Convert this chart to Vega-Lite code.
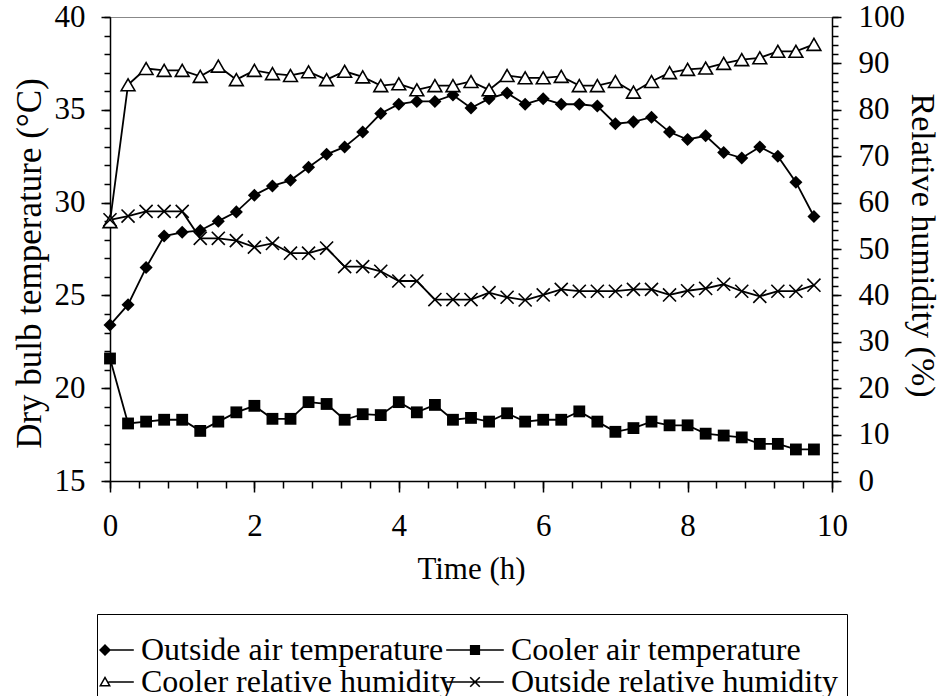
{
"$schema": "https://vega.github.io/schema/vega-lite/v6.json",
"width": 722, "height": 464, "autosize": "none",
"padding": {"left": 110, "top": 17, "right": 109, "bottom": 215},
"config": {
  "font": "Liberation Serif",
  "view": {"stroke": "#888888", "strokeWidth": 1},
  "axis": {"grid": false, "labelColor": "black", "titleColor": "black", "tickColor": "black", "domainColor": "black", "domainWidth": 1.5, "tickWidth": 1.5, "labelFont": "Liberation Serif", "titleFont": "Liberation Serif", "labelFontSize": 31, "titleFontWeight": "normal", "labelFlush": false}
},
"data": {"values": [
{"t":0,"s":"Outside air temperature","v":23.4},{"t":0.25,"s":"Outside air temperature","v":24.5},{"t":0.5,"s":"Outside air temperature","v":26.5},{"t":0.75,"s":"Outside air temperature","v":28.2},{"t":1,"s":"Outside air temperature","v":28.4},{"t":1.25,"s":"Outside air temperature","v":28.5},{"t":1.5,"s":"Outside air temperature","v":29.0},{"t":1.75,"s":"Outside air temperature","v":29.5},{"t":2,"s":"Outside air temperature","v":30.4},{"t":2.25,"s":"Outside air temperature","v":30.9},{"t":2.5,"s":"Outside air temperature","v":31.2},{"t":2.75,"s":"Outside air temperature","v":31.9},{"t":3,"s":"Outside air temperature","v":32.6},{"t":3.25,"s":"Outside air temperature","v":33.0},{"t":3.5,"s":"Outside air temperature","v":33.8},{"t":3.75,"s":"Outside air temperature","v":34.8},{"t":4,"s":"Outside air temperature","v":35.3},{"t":4.25,"s":"Outside air temperature","v":35.45},{"t":4.5,"s":"Outside air temperature","v":35.45},{"t":4.75,"s":"Outside air temperature","v":35.8},{"t":5,"s":"Outside air temperature","v":35.1},{"t":5.25,"s":"Outside air temperature","v":35.6},{"t":5.5,"s":"Outside air temperature","v":35.9},{"t":5.75,"s":"Outside air temperature","v":35.3},{"t":6,"s":"Outside air temperature","v":35.6},{"t":6.25,"s":"Outside air temperature","v":35.3},{"t":6.5,"s":"Outside air temperature","v":35.3},{"t":6.75,"s":"Outside air temperature","v":35.2},{"t":7,"s":"Outside air temperature","v":34.25},{"t":7.25,"s":"Outside air temperature","v":34.35},{"t":7.5,"s":"Outside air temperature","v":34.6},{"t":7.75,"s":"Outside air temperature","v":33.8},{"t":8,"s":"Outside air temperature","v":33.4},{"t":8.25,"s":"Outside air temperature","v":33.6},{"t":8.5,"s":"Outside air temperature","v":32.7},{"t":8.75,"s":"Outside air temperature","v":32.4},{"t":9,"s":"Outside air temperature","v":33.0},{"t":9.25,"s":"Outside air temperature","v":32.5},{"t":9.5,"s":"Outside air temperature","v":31.1},{"t":9.75,"s":"Outside air temperature","v":29.25},
{"t":0,"s":"Cooler air temperature","v":21.6},{"t":0.25,"s":"Cooler air temperature","v":18.1},{"t":0.5,"s":"Cooler air temperature","v":18.2},{"t":0.75,"s":"Cooler air temperature","v":18.3},{"t":1,"s":"Cooler air temperature","v":18.3},{"t":1.25,"s":"Cooler air temperature","v":17.7},{"t":1.5,"s":"Cooler air temperature","v":18.2},{"t":1.75,"s":"Cooler air temperature","v":18.7},{"t":2,"s":"Cooler air temperature","v":19.05},{"t":2.25,"s":"Cooler air temperature","v":18.35},{"t":2.5,"s":"Cooler air temperature","v":18.35},{"t":2.75,"s":"Cooler air temperature","v":19.25},{"t":3,"s":"Cooler air temperature","v":19.15},{"t":3.25,"s":"Cooler air temperature","v":18.3},{"t":3.5,"s":"Cooler air temperature","v":18.6},{"t":3.75,"s":"Cooler air temperature","v":18.55},{"t":4,"s":"Cooler air temperature","v":19.25},{"t":4.25,"s":"Cooler air temperature","v":18.7},{"t":4.5,"s":"Cooler air temperature","v":19.1},{"t":4.75,"s":"Cooler air temperature","v":18.3},{"t":5,"s":"Cooler air temperature","v":18.4},{"t":5.25,"s":"Cooler air temperature","v":18.2},{"t":5.5,"s":"Cooler air temperature","v":18.65},{"t":5.75,"s":"Cooler air temperature","v":18.2},{"t":6,"s":"Cooler air temperature","v":18.3},{"t":6.25,"s":"Cooler air temperature","v":18.3},{"t":6.5,"s":"Cooler air temperature","v":18.75},{"t":6.75,"s":"Cooler air temperature","v":18.2},{"t":7,"s":"Cooler air temperature","v":17.65},{"t":7.25,"s":"Cooler air temperature","v":17.85},{"t":7.5,"s":"Cooler air temperature","v":18.2},{"t":7.75,"s":"Cooler air temperature","v":18.0},{"t":8,"s":"Cooler air temperature","v":18.0},{"t":8.25,"s":"Cooler air temperature","v":17.55},{"t":8.5,"s":"Cooler air temperature","v":17.45},{"t":8.75,"s":"Cooler air temperature","v":17.35},{"t":9,"s":"Cooler air temperature","v":17.0},{"t":9.25,"s":"Cooler air temperature","v":17.0},{"t":9.5,"s":"Cooler air temperature","v":16.7},{"t":9.75,"s":"Cooler air temperature","v":16.7},
{"t":0,"s":"Cooler relative humidity","v":55.9},{"t":0.25,"s":"Cooler relative humidity","v":85.4},{"t":0.5,"s":"Cooler relative humidity","v":88.9},{"t":0.75,"s":"Cooler relative humidity","v":88.5},{"t":1,"s":"Cooler relative humidity","v":88.5},{"t":1.25,"s":"Cooler relative humidity","v":87.2},{"t":1.5,"s":"Cooler relative humidity","v":89.4},{"t":1.75,"s":"Cooler relative humidity","v":86.5},{"t":2,"s":"Cooler relative humidity","v":88.5},{"t":2.25,"s":"Cooler relative humidity","v":87.8},{"t":2.5,"s":"Cooler relative humidity","v":87.4},{"t":2.75,"s":"Cooler relative humidity","v":88.2},{"t":3,"s":"Cooler relative humidity","v":86.5},{"t":3.25,"s":"Cooler relative humidity","v":88.3},{"t":3.5,"s":"Cooler relative humidity","v":87.1},{"t":3.75,"s":"Cooler relative humidity","v":85.2},{"t":4,"s":"Cooler relative humidity","v":85.6},{"t":4.25,"s":"Cooler relative humidity","v":84.3},{"t":4.5,"s":"Cooler relative humidity","v":85.2},{"t":4.75,"s":"Cooler relative humidity","v":85.2},{"t":5,"s":"Cooler relative humidity","v":86.1},{"t":5.25,"s":"Cooler relative humidity","v":84.3},{"t":5.5,"s":"Cooler relative humidity","v":87.4},{"t":5.75,"s":"Cooler relative humidity","v":86.9},{"t":6,"s":"Cooler relative humidity","v":86.9},{"t":6.25,"s":"Cooler relative humidity","v":87.2},{"t":6.5,"s":"Cooler relative humidity","v":85.2},{"t":6.75,"s":"Cooler relative humidity","v":85.2},{"t":7,"s":"Cooler relative humidity","v":86.1},{"t":7.25,"s":"Cooler relative humidity","v":83.8},{"t":7.5,"s":"Cooler relative humidity","v":86.1},{"t":7.75,"s":"Cooler relative humidity","v":88.0},{"t":8,"s":"Cooler relative humidity","v":88.7},{"t":8.25,"s":"Cooler relative humidity","v":89.0},{"t":8.5,"s":"Cooler relative humidity","v":90.0},{"t":8.75,"s":"Cooler relative humidity","v":90.8},{"t":9,"s":"Cooler relative humidity","v":91.2},{"t":9.25,"s":"Cooler relative humidity","v":92.6},{"t":9.5,"s":"Cooler relative humidity","v":92.6},{"t":9.75,"s":"Cooler relative humidity","v":94.1},
{"t":0,"s":"Outside relative humidity","v":56.3},{"t":0.25,"s":"Outside relative humidity","v":57.1},{"t":0.5,"s":"Outside relative humidity","v":58.1},{"t":0.75,"s":"Outside relative humidity","v":58.1},{"t":1,"s":"Outside relative humidity","v":58.1},{"t":1.25,"s":"Outside relative humidity","v":52.3},{"t":1.5,"s":"Outside relative humidity","v":52.3},{"t":1.75,"s":"Outside relative humidity","v":51.8},{"t":2,"s":"Outside relative humidity","v":50.4},{"t":2.25,"s":"Outside relative humidity","v":51.2},{"t":2.5,"s":"Outside relative humidity","v":49.1},{"t":2.75,"s":"Outside relative humidity","v":49.1},{"t":3,"s":"Outside relative humidity","v":50.2},{"t":3.25,"s":"Outside relative humidity","v":46.2},{"t":3.5,"s":"Outside relative humidity","v":46.2},{"t":3.75,"s":"Outside relative humidity","v":45.2},{"t":4,"s":"Outside relative humidity","v":43.1},{"t":4.25,"s":"Outside relative humidity","v":43.1},{"t":4.5,"s":"Outside relative humidity","v":39.1},{"t":4.75,"s":"Outside relative humidity","v":39.1},{"t":5,"s":"Outside relative humidity","v":39.1},{"t":5.25,"s":"Outside relative humidity","v":40.6},{"t":5.5,"s":"Outside relative humidity","v":39.6},{"t":5.75,"s":"Outside relative humidity","v":39.0},{"t":6,"s":"Outside relative humidity","v":40.1},{"t":6.25,"s":"Outside relative humidity","v":41.3},{"t":6.5,"s":"Outside relative humidity","v":40.9},{"t":6.75,"s":"Outside relative humidity","v":40.9},{"t":7,"s":"Outside relative humidity","v":40.9},{"t":7.25,"s":"Outside relative humidity","v":41.3},{"t":7.5,"s":"Outside relative humidity","v":41.3},{"t":7.75,"s":"Outside relative humidity","v":40.1},{"t":8,"s":"Outside relative humidity","v":41.0},{"t":8.25,"s":"Outside relative humidity","v":41.5},{"t":8.5,"s":"Outside relative humidity","v":42.4},{"t":8.75,"s":"Outside relative humidity","v":40.9},{"t":9,"s":"Outside relative humidity","v":39.8},{"t":9.25,"s":"Outside relative humidity","v":40.9},{"t":9.5,"s":"Outside relative humidity","v":40.9},{"t":9.75,"s":"Outside relative humidity","v":42.2}
]},
"layer": [
 {
  "transform": [{"filter": {"field": "s", "oneOf": ["Outside air temperature", "Cooler air temperature"]}}],
  "encoding": {
    "x": {"field": "t", "type": "quantitative", "scale": {"domain": [0, 10], "nice": false},
          "axis": {"orient": "bottom", "values": [0,2,4,6,8,10], "tickSize": 11, "labelPadding": 19, "title": "Time (h)", "titleFontSize": 31, "titleY": 88, "titleBaseline": "middle"}},
    "y": {"field": "v", "type": "quantitative", "scale": {"domain": [15, 40], "nice": false, "zero": false},
          "axis": {"orient": "left", "values": [15,20,25,30,35,40], "tickSize": 9, "labelPadding": 16, "title": "Dry bulb temperature (°C)", "titleFontSize": 35, "titleAngle": 270, "titleBaseline": "alphabetic", "titleAlign": "center", "titleX": -70, "titleY": 246}}
  },
  "layer": [
    {"mark": {"type": "line", "color": "black", "strokeWidth": 1.8}, "encoding": {"detail": {"field": "s"}}},
    {"transform": [{"filter": {"field": "s", "equal": "Outside air temperature"}}],
     "mark": {"type": "point", "shape": "diamond", "filled": true, "color": "black", "size": 170, "opacity": 1}},
    {"transform": [{"filter": {"field": "s", "equal": "Cooler air temperature"}}],
     "mark": {"type": "point", "shape": "square", "filled": true, "color": "black", "size": 140, "opacity": 1}},
    {"mark": {"type": "point", "filled": true, "color": "black", "opacity": 0, "strokeWidth": 0, "size": 144},
     "encoding": {
       "shape": {"field": "s", "type": "nominal",
         "scale": {"domain": ["Outside air temperature", "Cooler air temperature", "Cooler relative humidity", "Outside relative humidity"],
                   "range": [
                     "M0,-0.13H4.8V0.13H0ZM-1,0L0,-1L1,0L0,1Z",
                     "M-4.8,-0.13H4.8V0.13H-4.8ZM-0.85,-0.85H0.85V0.85H-0.85Z",
                     "M0.57,-0.13H4.8V0.13H0.57ZM0,-1L1,0.75L-1,0.75ZM0,-0.496L-0.569,0.5L0.569,0.5Z",
                     "M-4.8,-0.13H4.8V0.13H-4.8ZM-0.708,-0.892L0.892,0.708L0.708,0.892L-0.892,-0.708ZM-0.892,0.708L0.708,-0.892L0.892,-0.708L-0.708,0.892Z"]},
         "legend": {"orient": "none", "direction": "horizontal", "legendX": -13, "legendY": 597, "columns": 2, "title": " ", "titleFontSize": 4, "titlePadding": 8, "labelFontSize": 32, "labelFont": "Liberation Serif", "labelColor": "black", "labelLimit": 1000, "symbolSize": 144, "symbolFillColor": "black", "symbolStrokeColor": "transparent", "symbolStrokeWidth": 0, "symbolOpacity": 1, "strokeColor": "black", "padding": 8, "symbolOffset": -16, "labelOffset": 20, "columnPadding": -10, "rowPadding": -10}}
     }}
  ]
 },
 {
  "transform": [{"filter": {"field": "s", "oneOf": ["Cooler relative humidity", "Outside relative humidity"]}}],
  "encoding": {
    "x": {"field": "t", "type": "quantitative", "scale": {"domain": [0, 10], "nice": false},
          "axis": {"orient": "bottom", "values": [0,0.4,0.8,1.2,1.6,2,2.4,2.8,3.2,3.6,4,4.4,4.8,5.2,5.6,6,6.4,6.8,7.2,7.6,8,8.4,8.8,9.2,9.6,10], "tickSize": 7, "labels": false, "domain": false, "title": null}},
    "y": {"field": "v", "type": "quantitative", "scale": {"domain": [0, 100], "nice": false},
          "axis": {"orient": "right", "values": [0,10,20,30,40,50,60,70,80,90,100], "tickSize": 9, "labelPadding": 17, "title": "Relative humidity (%)", "titleFontSize": 34, "titleAngle": 90, "titleBaseline": "alphabetic", "titleAlign": "center", "titleX": 79, "titleY": 228}}
  },
  "layer": [
    {"mark": {"type": "line", "color": "black", "strokeWidth": 1.8}, "encoding": {"detail": {"field": "s"}}},
    {"transform": [{"filter": {"field": "s", "equal": "Cooler relative humidity"}}],
     "mark": {"type": "point", "shape": "triangle-up", "filled": true, "fill": "white", "stroke": "black", "strokeWidth": 1.6, "size": 190, "opacity": 1}},
    {"transform": [{"filter": {"field": "s", "equal": "Outside relative humidity"}}],
     "mark": {"type": "point", "shape": "M-1,-1L1,1M-1,1L1,-1", "filled": false, "stroke": "black", "strokeWidth": 1.6, "size": 170, "opacity": 1}}
  ]
 },
 {
  "transform": [{"filter": {"field": "s", "oneOf": ["Outside air temperature", "Cooler air temperature"]}}],
  "mark": {"type": "point", "opacity": 0},
  "encoding": {
    "x": {"field": "t", "type": "quantitative", "scale": {"domain": [0, 10], "nice": false}, "axis": null},
    "y": {"field": "v", "type": "quantitative", "scale": {"domain": [15, 40], "nice": false, "zero": false},
          "axis": {"orient": "left", "values": [15,16,17,18,19,20,21,22,23,24,25,26,27,28,29,30,31,32,33,34,35,36,37,38,39,40], "tickSize": 6, "labels": false, "domain": false, "title": null}}
  }
 },
 {
  "transform": [{"filter": {"field": "s", "oneOf": ["Cooler relative humidity", "Outside relative humidity"]}}],
  "mark": {"type": "point", "opacity": 0},
  "encoding": {
    "x": {"field": "t", "type": "quantitative", "scale": {"domain": [0, 10], "nice": false}, "axis": null},
    "y": {"field": "v", "type": "quantitative", "scale": {"domain": [0, 100], "nice": false},
          "axis": {"orient": "right", "values": [0,2,4,6,8,10,12,14,16,18,20,22,24,26,28,30,32,34,36,38,40,42,44,46,48,50,52,54,56,58,60,62,64,66,68,70,72,74,76,78,80,82,84,86,88,90,92,94,96,98,100], "tickSize": 6, "labels": false, "domain": false, "title": null}}
  }
 }
],
"resolve": {"scale": {"x": "independent", "y": "independent"}, "axis": {"x": "independent", "y": "independent"}}
}
